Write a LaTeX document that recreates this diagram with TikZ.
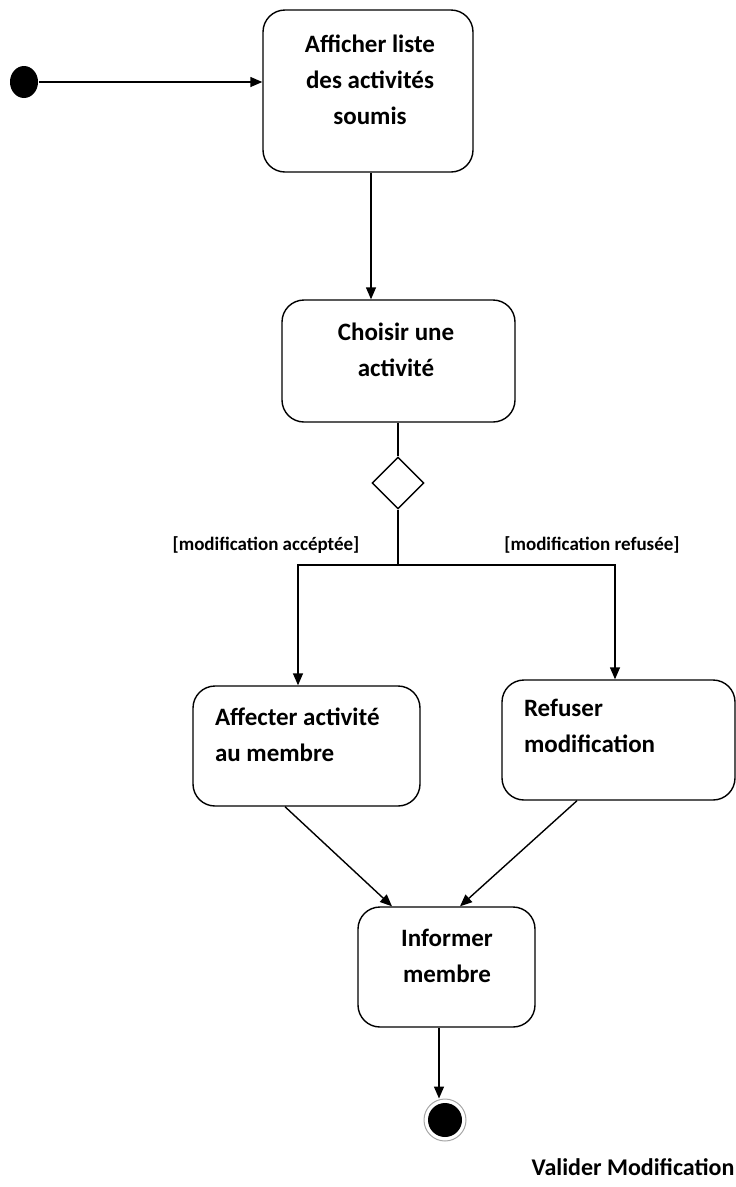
\documentclass[tikz,border=0pt]{standalone}
\usepackage{fontspec}
\setmainfont{Carlito}
\usetikzlibrary{shapes.geometric,arrows.meta}
\begin{document}
\begin{tikzpicture}[x=1pt,y=-1pt,
  line width=1.4pt,
  act/.style={draw, rounded corners=22pt, inner sep=0pt},
  txt/.style={font=\fontsize{25}{36}\selectfont\bfseries, align=center, inner sep=0pt},
  ltxt/.style={font=\fontsize{25}{36}\selectfont\bfseries, align=left, inner sep=0pt, anchor=west},
  guard/.style={font=\fontsize{19}{22}\selectfont\bfseries},
  arr/.style={-{Triangle[length=12pt,width=10pt]}},
  dec/.style={draw, diamond, aspect=1, minimum width=52pt, minimum height=52pt, inner sep=0pt}]
\useasboundingbox (0,0) rectangle (736,1187);

% initial state
\node[fill=black, ellipse, minimum width=28pt, minimum height=32pt, inner sep=0pt] (start) at (24,82) {};

% activity boxes
\node[act, minimum width=210pt, minimum height=162pt] (a1) at (368,91) {};
\node[act, minimum width=233pt, minimum height=122pt] (a2) at (398.5,361) {};
\node[dec] (d) at (398,483) {};
\node[act, minimum width=227pt, minimum height=120pt] (a3) at (306.5,746) {};
\node[act, minimum width=233pt, minimum height=120pt] (a4) at (618.5,740) {};
\node[act, minimum width=177pt, minimum height=120pt] (a5) at (446.5,967) {};

% activity names
\node[txt] (t1) at (370,80) {Afficher liste\\des activités\\soumis};
\node[txt] (t2) at (396,350) {Choisir une\\activité};
\node[ltxt] (t3) at ([xshift=22pt,yshift=11pt]a3.west) {Affecter activité\\au membre};
\node[ltxt] (t4) at ([xshift=22pt,yshift=14pt]a4.west) {Refuser\\modification};
\node[txt] (t5) at (447,956) {Informer\\membre};

% final state
\node[circle, draw=gray!70, line width=1pt, minimum size=42pt, inner sep=0pt] (end) at (445,1120) {};
\fill[black] (end.center) circle (17pt);

% guards and title
\node[guard] (g1) at (266,545) {[modification accéptée]};
\node[guard] (g2) at (592,545) {[modification refusée]};
\node[font=\fontsize{24}{28}\selectfont\bfseries] (title) at (633,1167) {Valider Modification};

% flows
\draw[arr] (start.east) -- (start.east -| a1.west);
\draw[arr] ([xshift=3pt]a1.south) -- ([xshift=3pt]a1.south |- a2.north);
\draw (a2.south -| d.north) -- (d.north);
\coordinate (j) at (d.south |- 0,565);
\draw (d.south) -- (j);
\draw[arr] (j) -| ([xshift=-8.5pt]a3.north);
\draw[arr] (j) -| ([xshift=-3.5pt]a4.north);
\draw[arr] ([xshift=-21.5pt]a3.south) -- ([xshift=-54.5pt]a5.north);
\draw[arr] ([xshift=-41.5pt]a4.south) -- ([xshift=13.5pt]a5.north);
\draw[arr] ([xshift=-7.5pt]a5.south) -- ([xshift=-7.5pt]a5.south |- end.north);
\end{tikzpicture}
\end{document}
